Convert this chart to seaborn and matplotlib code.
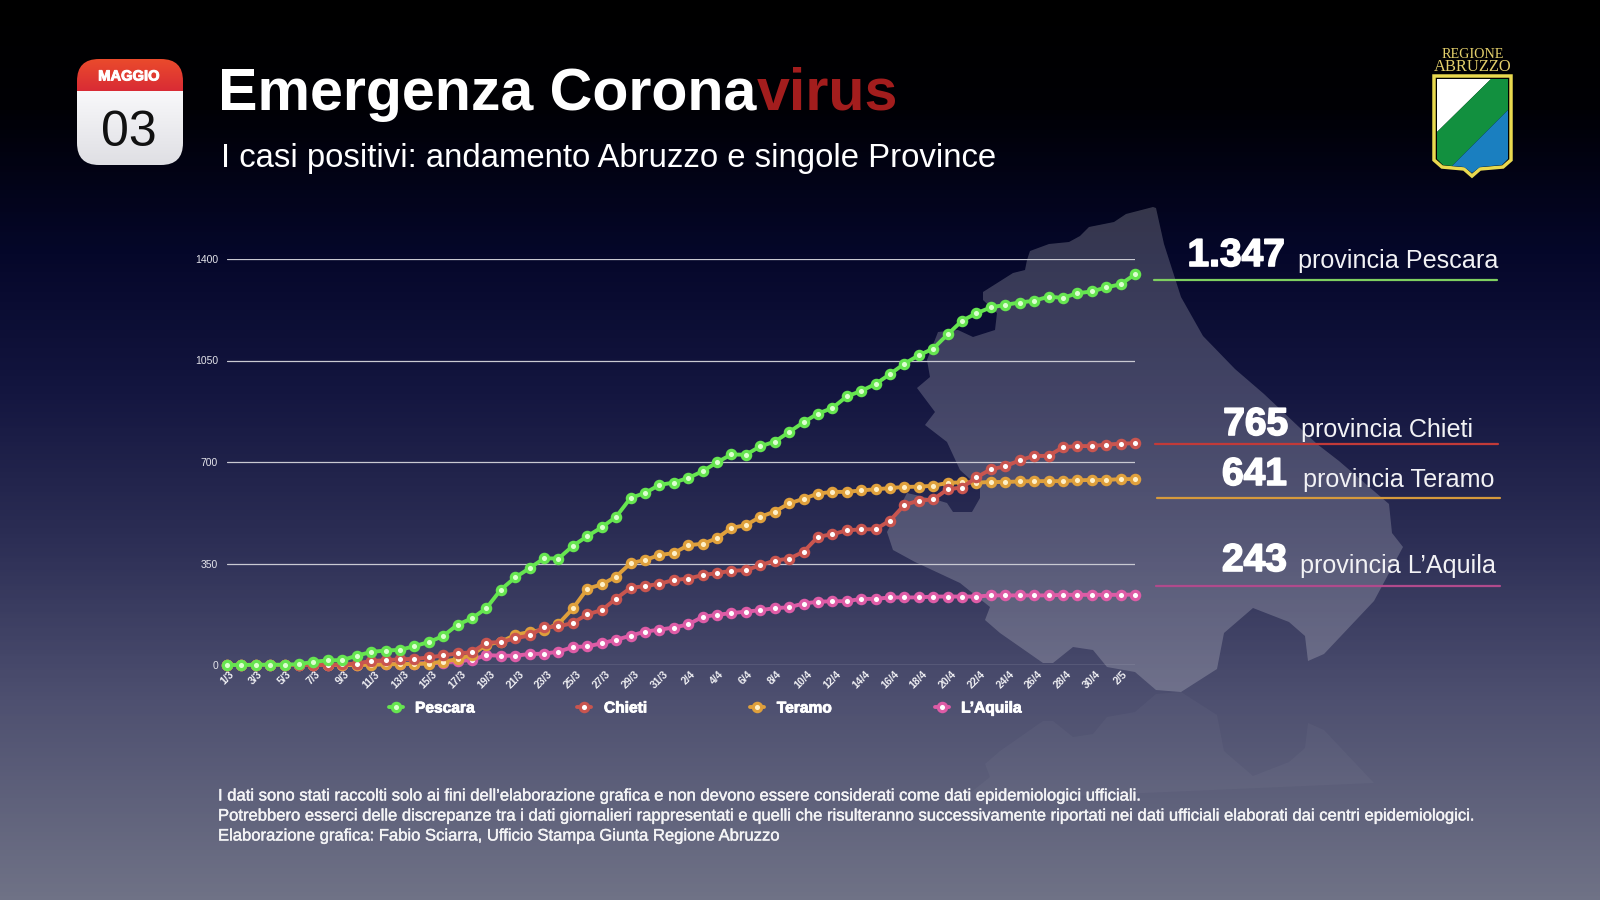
import numpy as np
import matplotlib
matplotlib.use("Agg")
import matplotlib.pyplot as plt
from matplotlib.colors import LinearSegmentedColormap
from matplotlib.patches import Polygon, FancyBboxPatch
import matplotlib.patheffects as pe
import seaborn as sns

pescara = [0,0,1,1,1,3,11,16,17,32,45,50,52,65,79,100,139,161,196,260,302,334,368,367,411,444,475,511,576,593,621,629,645,668,699,726,725,754,770,803,837,867,886,926,945,969,1003,1039,1068,1091,1140,1187,1213,1233,1242,1250,1256,1270,1266,1282,1288,1302,1313,1347]
chieti = [0,0,0,0,0,0,0,0,2,5,14,16,20,21,26,33,40,44,77,79,92,102,130,133,145,175,189,229,266,272,280,293,298,310,317,325,327,344,360,367,390,442,451,464,468,468,498,552,567,571,606,612,647,675,685,706,721,721,751,755,755,760,763,765]
teramo = [0,0,0,0,0,0,0,0,0,0,1,2,3,4,5,12,20,35,70,80,104,114,122,142,195,263,278,305,351,362,379,386,413,418,437,473,482,511,529,557,573,591,597,597,602,606,610,614,615,618,628,630,629,631,631,633,634,634,634,637,638,638,641,641]
laquila = [0,0,0,0,0,0,0,0,0,1,2,3,4,5,6,8,13,18,34,32,32,38,39,46,62,64,75,87,101,115,122,129,140,166,173,179,184,189,196,199,212,218,220,220,228,228,233,233,233,236,236,236,236,240,240,240,240,240,242,242,242,242,242,243]
tick_labels = ["1/3","3/3","5/3","7/3","9/3","11/3","13/3","15/3","17/3","19/3","21/3","23/3","25/3","27/3","29/3","31/3","2/4","4/4","6/4","8/4","10/4","12/4","14/4","16/4","18/4","20/4","22/4","24/4","26/4","28/4","30/4","2/5"]
y_ticks = [0,350,700,1050,1400]
values = [pescara,chieti,teramo,laquila]
colors = ["#66e550","#c9554f","#dfa03c","#de5ca6"]
centers = ["#dcffd0","#ffffff","#fff0c8","#ffffff"]
draw_order = [3,2,1,0]
totals = ["1.347","765","641","243"]
side_names = ["provincia Pescara","provincia Chieti","provincia Teramo","provincia L\u2019Aquila"]
legend_names = ["Pescara","Chieti","Teramo","L\u2019Aquila"]

map_outline = [(1153,207),(1126,214),(1114,222),(1089,227),(1080,236),(1069,242),(1049,244),(1030,251),(1027,260),(1025,270),(1013,273),(983,292),(983,300),(997,313),(995,330),(973,337),(958,330),(938,332),(927,360),(930,377),(917,388),(935,412),(925,425),(947,442),(960,470),(980,488),(980,498),(972,512),(953,512),(947,503),(937,500),(907,493),(887,532),(893,550),(915,562),(960,583),(990,607),(985,620),(1000,633),(1043,663),(1053,663),(1073,647),(1093,650),(1107,667),(1135,672),(1156,690),(1181,692),(1217,669),(1224,633),(1253,608),(1289,622),(1305,636),(1308,661),(1324,654),(1374,601),(1403,547),(1392,533),(1389,504),(1339,461),(1317,444),(1264,394),(1235,369),(1203,336),(1181,297),(1164,244),(1156,208)]

sns.set_theme(style="dark")
SANS = ["Liberation Sans","DejaVu Sans"]
plt.rcParams["font.family"] = SANS

fig = plt.figure(figsize=(16,9), dpi=100)
bg = fig.add_axes([0,0,1,1]); bg.set_axis_off()
cmap = LinearSegmentedColormap.from_list("bg",[(0,"#000000"),(0.12,"#000005"),(0.28,"#05072a"),(0.43,"#13153f"),(0.6,"#2c2e55"),(0.78,"#4e5070"),(1,"#6f7286")])
bg.imshow(np.linspace(0,1,450).reshape(-1,1),cmap=cmap,extent=(0,1600,900,0),aspect="auto",zorder=0)
bg.set_xlim(0,1600); bg.set_ylim(900,0)

bg.add_patch(Polygon(map_outline,closed=True,fc="white",ec="none",alpha=0.2,zorder=1))
mirror = [(x,2*692-y) for x,y in map_outline if y>580]
bg.add_patch(Polygon(mirror,closed=True,fc="white",ec="none",alpha=0.03,zorder=1))

# calendar icon
card = FancyBboxPatch((99,81),62,62,boxstyle="round,pad=22,rounding_size=22",fc="none",ec="none",zorder=2)
bg.add_patch(card)
im1 = bg.imshow(np.linspace(0,1,60).reshape(-1,1),cmap=LinearSegmentedColormap.from_list("w",["#f8f8fa","#dfdfe4"]),extent=(77,183,165,91),aspect="auto",zorder=2); im1.set_clip_path(card)
im2 = bg.imshow(np.linspace(0,1,30).reshape(-1,1),cmap=LinearSegmentedColormap.from_list("r",["#ea4a2c","#d92c35"]),extent=(77,183,91,59),aspect="auto",zorder=3); im2.set_clip_path(card)
bg.set_xlim(0,1600); bg.set_ylim(900,0)
bg.text(129,76.5,"MAGGIO",color="white",fontsize=10.6,fontweight="bold",family=SANS,ha="center",va="center",zorder=4,
        path_effects=[pe.withStroke(linewidth=0.7,foreground="white")])
bg.text(128.5,133.5,"03",color="#111111",fontsize=36,family=SANS,ha="center",va="center",zorder=4)

# logo
bg.add_patch(Polygon([(1434,76),(1511,76),(1511,160),(1503,167),(1480,169),(1472,176),(1464,169),(1442,167),(1434,160)],fc="#000000",ec="#e9d94f",lw=2.5,zorder=2))
bg.add_patch(Polygon([(1437,79),(1491,79),(1437,132)],fc="white",ec="none",zorder=3))
bg.add_patch(Polygon([(1491,79),(1508,79),(1508,110),(1452,166),(1443,165),(1437,159),(1437,132)],fc="#12903f",ec="none",zorder=3))
bg.add_patch(Polygon([(1508,110),(1508,159),(1502,165),(1480,167),(1472,173),(1464,167),(1452,166)],fc="#1a7fc0",ec="none",zorder=3))
bg.text(1472.5,54,"REGIONE",color="#e3cf6b",fontsize=10.2,family=["Liberation Serif"],ha="center",va="center",zorder=4)
bg.text(1472.5,67,"ABRUZZO",color="#e3cf6b",fontsize=11.9,family=["Liberation Serif"],ha="center",va="center",zorder=4)

# title
t1 = bg.text(218,94,"Emergenza Corona",color="white",fontsize=42.6,fontweight="bold",family=SANS,ha="left",va="center",zorder=4)
bg.annotate("virus",xy=(1,0),xycoords=t1,xytext=(0,0),textcoords="offset points",color="#a31d1d",fontsize=42.6,fontweight="bold",family=SANS,ha="left",va="bottom",zorder=4)
bg.text(221,159,"I casi positivi: andamento Abruzzo e singole Province",color="white",fontsize=23.7,family=SANS,ha="left",va="center",zorder=4)

# chart
ax = fig.add_axes([227/1600,1-665/900,908/1600,406/900])
ax.patch.set_alpha(0)
days = np.arange(len(pescara))
for i in draw_order:
    sns.lineplot(x=days,y=values[i],ax=ax,color=colors[i],lw=2.8,marker="o",markersize=6.0,
                 markerfacecolor=centers[i],markeredgecolor=colors[i],markeredgewidth=2.3,
                 estimator=None,errorbar=None,legend=False,clip_on=False,label=legend_names[i],zorder=5)
ax.set_xlim(0,63); ax.set_ylim(0,1400)
ax.set_xlabel(""); ax.set_ylabel("")
for s in ax.spines.values(): s.set_visible(False)
ax.set_yticks(y_ticks); ax.set_yticklabels([str(v) for v in y_ticks],fontsize=7.5,color="#e4e4ea",family=SANS)
ax.set_xticks(days[::2]); ax.set_xticklabels(tick_labels,fontsize=7.6,color="#eeeef2",rotation=45,ha="center",fontweight="bold",family=SANS)
ax.tick_params(axis="both",length=0)
ax.tick_params(axis="y",pad=6.5); ax.tick_params(axis="x",pad=3)
ax.grid(False); ax.yaxis.grid(True,color="#c9c9d2",lw=0.9); ax.xaxis.grid(False)
ax.set_axisbelow(True)

h,l = ax.get_legend_handles_labels()
order = [l.index(n) for n in legend_names]
leg = ax.legend([h[k] for k in order],[l[k] for k in order],ncol=4,frameon=False,loc="center",
                bbox_to_anchor=((705-227)/908,(665-708)/406),handlelength=0.9,handletextpad=0.8,columnspacing=6.63,
                prop={"weight":"bold","size":11.2,"family":SANS})
for t in leg.get_texts():
    t.set_color("white")
    t.set_path_effects([pe.withStroke(linewidth=0.6,foreground="white")])

# side labels
rows = [(1285,253,1298,268,280,1154,1497),(1288,422,1301,437,444,1155,1498),(1287,472,1303,487,498,1157,1500),(1287,558,1300,573,586,1156,1500)]
line_cols = ["#7fd060","#c23a38","#d69a3c","#b04a8c"]
for (xn,yn,xt,yb,yl,x0,x1),tot,nm,c in zip(rows,totals,side_names,line_cols):
    bg.text(xn,yn+3,tot,color="white",fontsize=28,fontweight="bold",family=SANS,ha="right",va="center",zorder=4,
            path_effects=[pe.withStroke(linewidth=1.2,foreground="white")])
    bg.text(xt,yb,nm,color="#f2f2f5",fontsize=18.1,family=SANS,ha="left",va="baseline",zorder=4)
    bg.plot([x0,x1],[yl,yl],color=c,lw=1.6,zorder=4)

# footer
foot = ["I dati sono stati raccolti solo ai fini dell\u2019elaborazione grafica e non devono essere considerati come dati epidemiologici ufficiali.",
        "Potrebbero esserci delle discrepanze tra i dati giornalieri rappresentati e quelli che risulteranno successivamente riportati nei dati ufficiali elaborati dai centri epidemiologici.",
        "Elaborazione grafica: Fabio Sciarra, Ufficio Stampa Giunta Regione Abruzzo"]
for y,s in zip([796,816,836],foot):
    bg.text(218,y,s,color="#f4f4f6",fontsize=11.97,family=SANS,ha="left",va="center",zorder=4,
            path_effects=[pe.withStroke(linewidth=0.3,foreground="#f4f4f6")])
fig.savefig("out.png",dpi=100)
